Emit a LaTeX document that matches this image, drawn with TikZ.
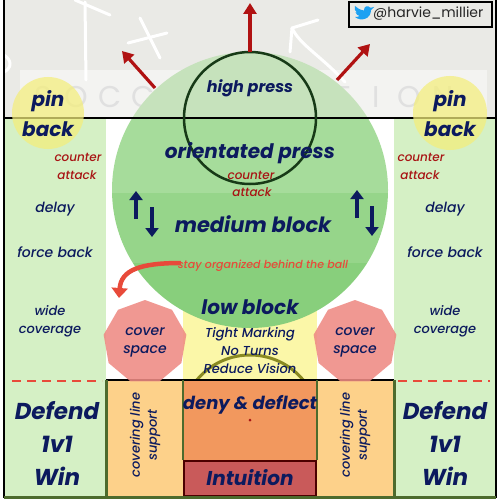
\documentclass[tikz,border=0pt]{standalone}
\usepackage{fontspec}
\setmainfont{Poppins}
\newfontfamily\pmed{Poppins}[UprightFont=* Medium, ItalicFont=* Medium Italic, BoldFont=* SemiBold, BoldItalicFont=* SemiBold Italic]
\usetikzlibrary{arrows.meta,shapes.geometric}
\definecolor{navy}{HTML}{0C1A5E}
\definecolor{darkred}{HTML}{A81414}
\definecolor{arrowred}{HTML}{B01212}
\definecolor{orred}{HTML}{E84A3A}
\definecolor{topgray}{HTML}{EAEAE6}
\definecolor{bandgray}{HTML}{F3F3F1}
\definecolor{colgreen}{HTML}{D5F0C5}
\definecolor{cA}{HTML}{C6E2BC}
\definecolor{cB}{HTML}{A6DC9B}
\definecolor{cC}{HTML}{96D58A}
\definecolor{cD}{HTML}{88CF7C}
\definecolor{lyellow}{HTML}{FBF7A8}
\definecolor{pinyellow}{HTML}{F4EE7A}
\definecolor{lorange}{HTML}{FDD18A}
\definecolor{morange}{HTML}{F2985E}
\definecolor{intu}{HTML}{C95A5A}
\definecolor{salmon}{HTML}{EF8A84}
\definecolor{olive}{HTML}{4D6B2D}
\definecolor{arcolive}{HTML}{8A8A22}
\definecolor{hpgreen}{HTML}{173A17}
\definecolor{twblue}{HTML}{1DA1F2}
\tikzset{
  lbl/.style={text=navy, align=center, inner sep=0pt},
  bigb/.style={lbl, font=\fontsize{#1}{#1}\selectfont\bfseries\itshape},
  midi/.style={lbl, font=\pmed\fontsize{#1}{#1}\selectfont\itshape},
  redi/.style={midi=#1, text=darkred},
  redarrow/.style={draw=arrowred, line width=3.2pt, -{Triangle[length=11pt,width=13pt]}},
  navyarrow/.style={draw=navy, line width=3.6pt, -{Triangle[length=9pt,width=13pt]}},
  chalk/.style={draw=white, line width=3pt, line cap=round},
}
\begin{document}
\begin{tikzpicture}[x=1pt,y=-1pt]
\useasboundingbox (0,0) rectangle (500,500);
\fill[white] (0,0) rectangle (500,500);
% top area
\fill[topgray] (4,0) rectangle (496,118);
\fill[bandgray] (20,70) rectangle (487,117);
\foreach \l [count=\i] in {S,O,C,C,O,N,N,E,C,T,I,O,N}
  \node[text=black!12, font=\fontsize{30}{30}\selectfont, inner sep=0pt] (wm\i) at ({43+(\i-1)*33.3},97) {\l};
% chalk marks
\draw[chalk] (85,2) -- (86,80);
\draw[chalk] (75,0) -- (110,15);
\draw[chalk] (140,18) -- (160,58);
\draw[chalk] (128,43) -- (167,33);
\draw[chalk] (4,55) .. controls (12,60) and (12,68) .. (4,72);
\draw[chalk] (345,82) .. controls (320,55) and (300,45) .. (292,28);
\draw[chalk] (292,28) -- (318,20);
\draw[chalk] (292,28) -- (290,52);
% twitter handle
\node[draw=black, line width=1.2pt, fill=topgray, minimum width=143pt, minimum height=25pt, inner sep=0pt] (tw) at (420.5,14.5) {};
\fill[twblue] (355,17) .. controls (361,22) and (371,19) .. (371,10) -- (374,7) -- (370.5,7.8) .. controls (368,5) and (363.5,6) .. (364,10.5) .. controls (360,10) and (357,8) .. (355,6) .. controls (354,9) and (355,11) .. (357,12.5) -- (355.5,12.2) .. controls (356,14.5) and (358,15.5) .. (359.5,16) .. controls (358,17) and (356.5,17.2) .. (355,17) -- cycle;
\node[text=black!85, font=\fontsize{14}{14}\selectfont, inner sep=0pt, anchor=west] (handle) at (373,13.5) {@harvie\_millier};
% side columns
\fill[colgreen] (5,118) rectangle (106,497);
\fill[colgreen] (394,118) rectangle (495,497);
% yellow region
\fill[lyellow] (183,270) rectangle (317,380);
% big circle bands
\begin{scope}
  \clip (250,190) circle (138);
  \fill[cA] (100,40) rectangle (400,118);
  \fill[cB] (100,118) rectangle (400,193);
  \fill[cC] (100,193) rectangle (400,263);
  \fill[cD] (100,263) rectangle (400,340);
\end{scope}
% bottom boxes
\fill[lorange] (106,380) rectangle (183,497);
\fill[lorange] (317,380) rectangle (394,497);
\fill[morange] (183,380) rectangle (317,460);
\node[draw=black!70!red, line width=2pt, fill=intu, minimum width=132pt, minimum height=35pt, inner sep=0pt] (intbox) at (250,478) {};
\fill[darkred] (250,420) circle (1.5);
% olive arc
\begin{scope}
  \clip (183,300) rectangle (317,380);
  \draw[arcolive, line width=3pt] (250,424) circle (69);
\end{scope}
% lines
\draw[black, line width=2.5pt] (4,118) -- (496,118);
\draw[black, line width=2.5pt] (106,380) -- (394,380);
\draw[olive, line width=3pt] (106,380) -- (106,497);
\draw[olive, line width=3pt] (394,380) -- (394,497);
\draw[olive, line width=2pt] (183,380) -- (183,460);
\draw[olive, line width=2pt] (317,380) -- (317,460);
% high press circle
\draw[hpgreen, line width=2.5pt] (250,118) circle (66);
% cover space
\node[regular polygon, regular polygon sides=9, minimum size=84pt, fill=salmon, fill opacity=0.88, inner sep=0pt] (csl) at (145,342) {};
\node[regular polygon, regular polygon sides=9, minimum size=84pt, fill=salmon, fill opacity=0.88, inner sep=0pt] (csr) at (355,342) {};
% pin back circles
\fill[pinyellow, fill opacity=0.72] (48,113) circle (36);
\fill[pinyellow, fill opacity=0.72] (450,113) circle (37);
% red arrows
\coordinate (a1s) at (250,52); \coordinate (a1e) at (250,3);
\coordinate (a2s) at (155,88); \coordinate (a2e) at (122,51);
\coordinate (a3s) at (337,80); \coordinate (a3e) at (370,44);
\draw[redarrow] (a1s) -- (a1e);
\draw[redarrow] (a2s) -- (a2e);
\draw[redarrow] (a3s) -- (a3e);
% up/down arrows
\coordinate (u1s) at (136,219); \coordinate (u1e) at (136,191);
\coordinate (d1s) at (152,207); \coordinate (d1e) at (152,237);
\coordinate (u2s) at (357,218); \coordinate (u2e) at (357,190);
\coordinate (d2s) at (372,206); \coordinate (d2e) at (372,236);
\draw[navyarrow] (u1s) -- (u1e);
\draw[navyarrow] (d1s) -- (d1e);
\draw[navyarrow] (u2s) -- (u2e);
\draw[navyarrow] (d2s) -- (d2e);
% curved arrow
\coordinate (cvs) at (181,263); \coordinate (cve) at (119,298);
\draw[orred, line width=4.5pt, -{Triangle[length=10pt,width=16pt]}] (cvs) .. controls (140,263) and (121,270) .. (cve);
% dashed red lines
\draw[orred, line width=2.5pt, dash pattern=on 9pt off 6pt] (12,381) -- (102,381);
\draw[orred, line width=2.5pt, dash pattern=on 9pt off 6pt] (398,381) -- (490,381);
% frame
\draw[black, line width=2.5pt] (4,0) -- (4,498);
\draw[black, line width=2.5pt] (496,0) -- (496,498);
\draw[olive, line width=3pt] (4,497) -- (496,497);
% texts
\node[bigb=16] (hp) at (250,88) {high press};
\node[bigb=20] (op) at (250,153) {orientated press};
\node[redi=12] (cac) at (251,175) {counter};
\node[redi=12] (cat) at (252,192) {attack};
\node[bigb=21] (mb) at (253,224) {medium block};
\node[midi=11, text=orred] (stay) at (263,266) {stay organized behind the ball};
\node[bigb=20] (lb) at (250,307) {low block};
\node[midi=13, font=\pmed\fontsize{13}{18}\selectfont\itshape] (tight) at (250,351) {Tight Marking\\No Turns\\Reduce Vision};
\node[midi=14, font=\pmed\fontsize{14}{18}\selectfont\itshape] (csltxt) at (145,342) {cover\\space};
\node[midi=14, font=\pmed\fontsize{14}{18}\selectfont\itshape] (csrtxt) at (355,342) {cover\\space};
\node[bigb=20, font=\fontsize{20}{30}\selectfont\bfseries\itshape] (pbl) at (48,114) {pin\\back};
\node[bigb=20, font=\fontsize{20}{30}\selectfont\bfseries\itshape] (pbr) at (450,114) {pin\\back};
\node[redi=12] (lcac) at (78,157) {counter};
\node[redi=12] (lcat) at (77,175) {attack};
\node[redi=12] (rcac) at (421,157) {counter};
\node[redi=12] (rcat) at (420,175) {attack};
\node[midi=14] (ldel) at (55,209) {delay};
\node[midi=14] (rdel) at (445,209) {delay};
\node[midi=14] (lfb) at (55,252) {force back};
\node[midi=14] (rfb) at (445,252) {force back};
\node[midi=13, font=\pmed\fontsize{13}{18}\selectfont\itshape] (lwc) at (50,321) {wide\\coverage};
\node[midi=13, font=\pmed\fontsize{13}{18}\selectfont\itshape] (rwc) at (445,321) {wide\\coverage};
\node[bigb=24, font=\fontsize{23}{33}\selectfont\bfseries\itshape] (ldef) at (57,443) {Defend\\1v1\\Win};
\node[bigb=24, font=\fontsize{23}{33}\selectfont\bfseries\itshape] (rdef) at (445,443) {Defend\\1v1\\Win};
\node[midi=13, font=\pmed\fontsize{13}{17}\selectfont\itshape, rotate=90] (lcov) at (145,435) {covering line\\support};
\node[midi=13, font=\pmed\fontsize{13}{17}\selectfont\itshape, rotate=90] (rcov) at (355,435) {covering line\\support};
\node[bigb=18] (deny) at (250,405) {deny \& deflect};
\node[bigb=20] (intu) at (intbox) {Intuition};
\end{tikzpicture}
\end{document}
